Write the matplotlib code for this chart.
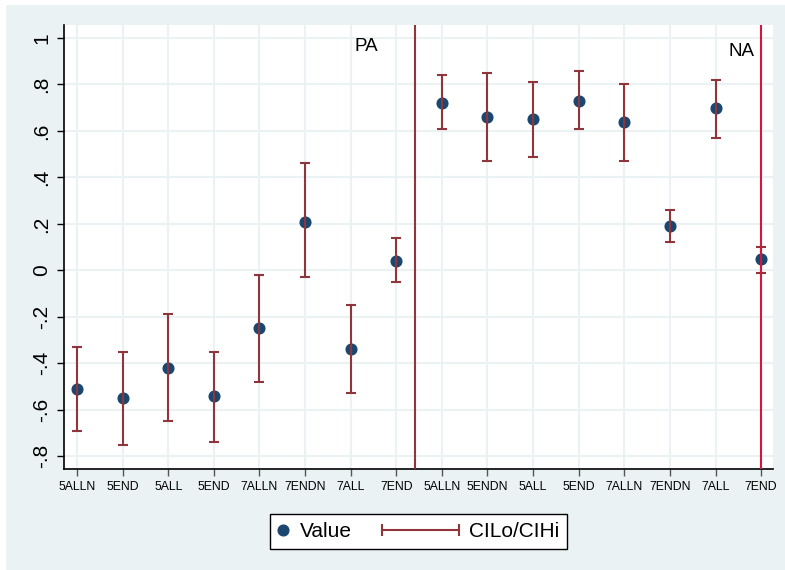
import numpy as np
import matplotlib
matplotlib.use("Agg")
import matplotlib.pyplot as plt
from matplotlib.lines import Line2D
from matplotlib.patches import Rectangle
from matplotlib.legend_handler import HandlerBase, HandlerLine2D

plt.rcParams['font.family'] = ['Liberation Sans', 'DejaVu Sans']

# data
labels = ["5ALLN", "5END", "5ALL", "5END", "7ALLN", "7ENDN", "7ALL", "7END",
          "5ALLN", "5ENDN", "5ALL", "5END", "7ALLN", "7ENDN", "7ALL", "7END"]
value = [-0.51, -0.55, -0.42, -0.54, -0.25, 0.21, -0.34, 0.04,
         0.72, 0.66, 0.65, 0.73, 0.64, 0.19, 0.70, 0.05]
ci_lo = [-0.69, -0.75, -0.65, -0.74, -0.48, -0.03, -0.53, -0.05,
         0.61, 0.47, 0.49, 0.61, 0.47, 0.12, 0.57, -0.01]
ci_hi = [-0.33, -0.35, -0.19, -0.35, -0.02, 0.46, -0.15, 0.14,
         0.84, 0.85, 0.81, 0.86, 0.80, 0.26, 0.82, 0.10]
yticks = [-0.8, -0.6, -0.4, -0.2, 0, 0.2, 0.4, 0.6, 0.8, 1]
ytick_labels = ["-.8", "-.6", "-.4", "-.2", "0", ".2", ".4", ".6", ".8", "1"]
pa_x = 8.4
na_x = 16

navy = "#1A476F"
maroon = "#90353B"
bg = "#EAF2F3"


class ErrKeyHandler(HandlerBase):
    # horizontal line with caps, reaching left into the column gap
    def create_artists(self, legend, orig_handle, xdescent, ydescent,
                       width, height, fontsize, trans):
        y = height / 2 - ydescent
        x0 = -3.1 * fontsize
        x1 = width + 0.1 * fontsize
        ln = Line2D([x0, x1], [y, y], color=maroon, lw=1.5,
                    marker="|", markersize=8, markeredgewidth=1.5,
                    transform=trans)
        return [ln]


fig = plt.figure(figsize=(7.85, 5.70), dpi=100)
fig.patch.set_facecolor("white")
fig.patches.append(Rectangle((6 / 785, 0), 1, 565 / 570, transform=fig.transFigure,
                             facecolor=bg, edgecolor="none", zorder=-10))

ax = fig.add_axes([64 / 785, 101 / 570, 709 / 785, 444 / 570])
ax.set_facecolor("white")

x = np.arange(1, len(value) + 1)
ax.plot(x, value, "o", color=navy, markersize=7.7, zorder=3)
ax.errorbar(x, value, yerr=[np.array(value) - np.array(ci_lo), np.array(ci_hi) - np.array(value)],
            fmt="none", ecolor=maroon, elinewidth=1.5, capsize=3.6, capthick=1.5, zorder=4)

ax.axvline(pa_x, color=maroon, lw=1.5, zorder=5)
ax.axvline(na_x, color="#D4163C", lw=1.5, zorder=5)
ax.text(7.34, 0.965, "PA", fontsize=13.5, ha="center", va="center")
ax.text(15.56, 0.943, "NA", fontsize=13.5, ha="center", va="center")

ax.set_xlim(0.715, 16.26)
ax.set_ylim(-0.855, 1.056)
ax.set_xticks(x)
ax.set_xticklabels(labels, fontsize=8.8)
ax.set_yticks(yticks)
ax.set_yticklabels(ytick_labels, fontsize=15, rotation=90, va="center")
ax.tick_params(axis="x", length=5, width=1, color="#555555", pad=4)
ax.tick_params(axis="y", length=5, width=1, color="black", pad=4)
ax.grid(True, color=bg, lw=1.5, zorder=0)
ax.set_axisbelow(True)
for s in ["top", "right"]:
    ax.spines[s].set_visible(False)
for s in ["left", "bottom"]:
    ax.spines[s].set_linewidth(1.2)

h_val = Line2D([], [], linestyle="none", marker="o", color=navy, markersize=7.7)
h_err = Line2D([], [], color=maroon)
leg = fig.legend([h_val, h_err], ["Value", "CILo/CIHi"], loc="center",
                 bbox_to_anchor=(418.5 / 785, 1 - 531.5 / 570), ncol=2,
                 fontsize=15, frameon=True, fancybox=False, edgecolor="black",
                 facecolor="white", framealpha=1, handlelength=0.5,
                 handletextpad=0.57, columnspacing=4.55, borderpad=0.375,
                 handler_map={h_val: HandlerLine2D(numpoints=1), h_err: ErrKeyHandler()})
leg.get_frame().set_linewidth(1.0)

fig.savefig("out.png", dpi=100, facecolor=fig.get_facecolor())
